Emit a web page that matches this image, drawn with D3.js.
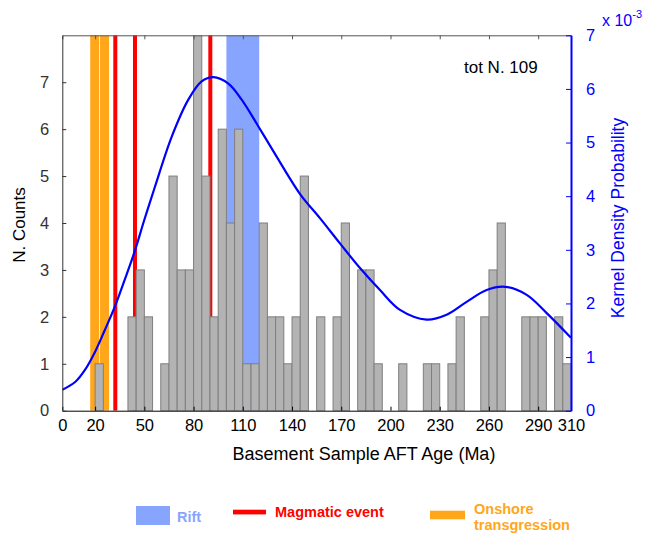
<!DOCTYPE html>
<html>
<head>
<meta charset="utf-8">
<script src="https://cdn.jsdelivr.net/npm/d3@7"></script>
<style>
  body { margin: 0; background: #fff; }
  svg { display: block; font-family: "Liberation Sans", Arial, sans-serif; }
</style>
</head>
<body>
<svg id="viz" width="646" height="533"></svg>
<script>
// histogram: left edge of each 5 Ma bin and its count
const binLeft = [20, 40, 45, 50, 60, 65, 70, 75, 80, 85, 90, 95, 100, 105, 110, 115,
    120, 125, 130, 135, 140, 145, 155, 165, 170, 180, 185, 190, 205, 220, 225, 235,
    240, 255, 260, 265, 280, 285, 290, 300, 305]
const binCount = [1, 2, 3, 2, 1, 5, 3, 3, 9, 5, 2, 6, 4, 6, 1, 1,
    4, 2, 2, 1, 2, 5, 2, 2, 4, 3, 3, 1, 1, 1, 1, 1,
    2, 2, 3, 4, 2, 2, 2, 2, 1]
const binWidth = 5

// kernel density curve (x 10^-3)
const kdeAge = [0, 8, 14, 20, 26, 32, 38, 44, 50, 56.5, 66.7, 76.8, 84.9, 92, 101.2, 109.3,
    119.5, 129.6, 144.9, 157, 169.2, 181.4, 193.6, 205.8, 222, 234.2, 246.4, 258.6,
    269.8, 283, 295.2, 310]
const kdeValue = [0.39, 0.54, 0.77, 1.10, 1.51, 1.94, 2.44, 2.96, 3.56, 4.18, 5.11, 5.80, 6.14, 6.22, 6.10, 5.80,
    5.30, 4.79, 4.04, 3.59, 3.12, 2.66, 2.25, 1.88, 1.70, 1.79, 2.03, 2.25,
    2.31, 2.16, 1.82, 1.36]

// events
const riftBand = [100, 120]
const magmaticAges = [32.3, 44.3, 90.2]
const onshoreBands = [[17, 22.5], [23, 28.5]]

const xTicks = [0, 20, 50, 80, 110, 140, 170, 200, 230, 260, 290, 310]
const countTicks = [0, 1, 2, 3, 4, 5, 6, 7]
const kdeTicks = [0, 1, 2, 3, 4, 5, 6, 7]

const legendItems = [
    { label: ["Rift"], color: "#87a5ff", kind: "rect" },
    { label: ["Magmatic event"], color: "#ff0000", kind: "line" },
    { label: ["Onshore", "transgression"], color: "#ffa61a", kind: "band" }
]

const plotL = 62.3, plotR = 571, plotT = 35.3, plotB = 410.7
const svg = d3.select("#viz")

const x = d3.scaleLinear().domain([0, 310]).range([plotL, plotR])
const yCount = d3.scaleLinear().domain([0, 8]).range([plotB, plotT])
const yKde = d3.scaleLinear().domain([0, 7]).range([plotB, plotT])

svg.append("clipPath").attr("id", "plot-clip")
    .append("rect")
    .attr("x", plotL).attr("y", plotT)
    .attr("width", plotR - plotL).attr("height", plotB - plotT)

const plot = svg.append("g").attr("clip-path", "url(#plot-clip)")

// background bands
plot.append("rect")
    .attr("x", x(riftBand[0]))
    .attr("width", x(riftBand[1]) - x(riftBand[0]))
    .attr("y", plotT).attr("height", plotB - plotT)
    .attr("fill", "#87a5ff")

plot.selectAll(".onshore")
    .data(onshoreBands)
    .join("rect")
    .attr("class", "onshore")
    .attr("x", d => x(d[0]))
    .attr("width", d => x(d[1]) - x(d[0]))
    .attr("y", plotT).attr("height", plotB - plotT)
    .attr("fill", "#ffa61a")

plot.selectAll(".magma")
    .data(magmaticAges)
    .join("line")
    .attr("class", "magma")
    .attr("x1", d => x(d)).attr("x2", d => x(d))
    .attr("y1", plotT).attr("y2", plotB)
    .attr("stroke", "#ff0000")
    .attr("stroke-width", 4)

// histogram bars
plot.selectAll(".bar")
    .data(binLeft.map((d, i) => [d, binCount[i]]))
    .join("rect")
    .attr("class", "bar")
    .attr("x", d => x(d[0]))
    .attr("width", d => x(d[0] + binWidth) - x(d[0]))
    .attr("y", d => yCount(d[1]))
    .attr("height", d => yCount(0) - yCount(d[1]))
    .attr("fill", "#b3b3b3")
    .attr("stroke", "#7f7f7f")
    .attr("stroke-width", 1)

// kde curve
const line = d3.line()
    .x(d => x(d[0]))
    .y(d => yKde(d[1]))
    .curve(d3.curveCatmullRom.alpha(0.5))

plot.append("path")
    .datum(kdeAge.map((d, i) => [d, kdeValue[i]]))
    .attr("d", line)
    .attr("fill", "none")
    .attr("stroke", "#0000ff")
    .attr("stroke-width", 2.2)

// axes
const styleAxis = (g, color, size) => {
    g.select(".domain").attr("stroke", color)
    g.selectAll(".tick line").attr("stroke", color)
    g.selectAll(".tick text").attr("fill", color).attr("font-size", size)
        .attr("font-family", "Liberation Sans, Arial, sans-serif")
}

svg.append("g")
    .attr("transform", `translate(0,${plotT})`)
    .call(d3.axisTop(x).tickValues(xTicks).tickSize(-4).tickSizeOuter(0).tickFormat(""))
    .call(g => styleAxis(g, "#555", 16))

svg.append("g")
    .attr("transform", `translate(0,${plotB})`)
    .call(d3.axisBottom(x).tickValues(xTicks).tickSize(-4).tickSizeOuter(0).tickPadding(9))
    .call(g => styleAxis(g, "#000", 16.5))

svg.append("g")
    .attr("transform", `translate(${plotL},0)`)
    .call(d3.axisLeft(yCount).tickValues(countTicks).tickSize(-4).tickSizeOuter(0).tickPadding(13))
    .call(g => styleAxis(g, "#333", 16.5))

svg.append("g")
    .attr("transform", `translate(${plotR},0)`)
    .call(d3.axisRight(yKde).tickValues(kdeTicks).tickSize(-5).tickSizeOuter(0).tickPadding(15)
        .tickFormat(d3.format("d")))
    .call(g => styleAxis(g, "#0000ff", 16.5))
    .call(g => g.select(".domain").attr("stroke-width", 2))

// exponent label
const expo = svg.append("text")
    .attr("x", 602).attr("y", 26)
    .attr("fill", "#0000ff")
    .attr("font-size", 16)
    .text("x 10")
expo.append("tspan")
    .attr("dy", -8)
    .attr("font-size", 11)
    .text("-3")

// axis titles
svg.append("text")
    .attr("transform", `translate(25,225) rotate(-90)`)
    .attr("text-anchor", "middle")
    .attr("font-size", 17)
    .text("N. Counts")

svg.append("text")
    .attr("transform", `translate(624,218) rotate(-90)`)
    .attr("text-anchor", "middle")
    .attr("font-size", 17.5)
    .attr("fill", "#0000ff")
    .text("Kernel Density Probability")

svg.append("text")
    .attr("x", 364).attr("y", 460)
    .attr("text-anchor", "middle")
    .attr("font-size", 18)
    .text("Basement Sample AFT Age (Ma)")

svg.append("text")
    .attr("x", 464).attr("y", 73)
    .attr("font-size", 17)
    .text("tot N. 109")

// legend
const legendX = [136, 233, 430]
const legendTextX = [41, 42, 44]
const legend = svg.append("g")
legendItems.forEach((d, i) => {
    const g = legend.append("g").attr("transform", `translate(${legendX[i]},0)`)
    if (d.kind === "rect") {
        g.append("rect").attr("x", 0).attr("y", 506).attr("width", 34).attr("height", 19).attr("fill", d.color)
    } else if (d.kind === "line") {
        g.append("rect").attr("x", 0).attr("y", 509.7).attr("width", 33).attr("height", 4.7).attr("fill", d.color)
    } else {
        g.append("rect").attr("x", 0).attr("y", 510.7).attr("width", 35).attr("height", 8.6).attr("fill", d.color)
    }
    g.selectAll("text")
        .data(d.label)
        .join("text")
        .attr("x", legendTextX[i])
        .attr("y", (t, j) => (d.label.length > 1 ? 513.5 : (d.kind === "rect" ? 521.7 : 517)) + j * 16)
        .attr("font-size", 14.5)
        .attr("font-weight", "bold")
        .attr("fill", d.color)
        .text(t => t)
})
</script>
</body>
</html>
